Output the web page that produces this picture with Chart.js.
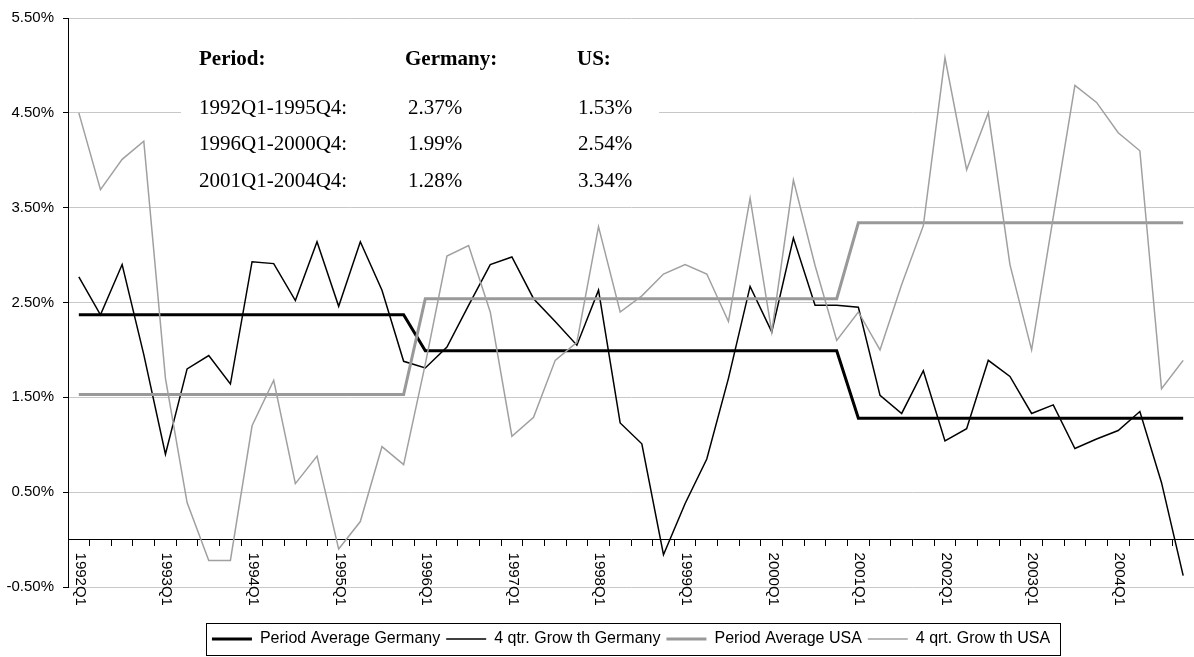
<!DOCTYPE html>
<html>
<head>
<meta charset="utf-8">
<script src="https://cdn.jsdelivr.net/npm/chart.js@4.4.1/dist/chart.umd.min.js"></script>
<style>
html,body{margin:0;padding:0;background:#fff;}
#wrap{width:1194px;height:657px;position:relative;}
</style>
</head>
<body>
<div id="wrap"><canvas id="c"></canvas></div>
<script>
const categories = [
  '1992Q1','1992Q2','1992Q3','1992Q4','1993Q1','1993Q2','1993Q3','1993Q4',
  '1994Q1','1994Q2','1994Q3','1994Q4','1995Q1','1995Q2','1995Q3','1995Q4',
  '1996Q1','1996Q2','1996Q3','1996Q4','1997Q1','1997Q2','1997Q3','1997Q4',
  '1998Q1','1998Q2','1998Q3','1998Q4','1999Q1','1999Q2','1999Q3','1999Q4',
  '2000Q1','2000Q2','2000Q3','2000Q4','2001Q1','2001Q2','2001Q3','2001Q4',
  '2002Q1','2002Q2','2002Q3','2002Q4','2003Q1','2003Q2','2003Q3','2003Q4',
  '2004Q1','2004Q2','2004Q3','2004Q4'
];
const tickLabels = ['1992Q1','1993Q1','1994Q1','1995Q1','1996Q1','1997Q1','1998Q1',
  '1999Q1','2000Q1','2001Q1','2002Q1','2003Q1','2004Q1'];
const yTicks = [-0.5, 0.5, 1.5, 2.5, 3.5, 4.5, 5.5];

const periodAverageGermany = [
  2.37,2.37,2.37,2.37,2.37,2.37,2.37,2.37,2.37,2.37,2.37,2.37,2.37,2.37,2.37,2.37,
  1.99,1.99,1.99,1.99,1.99,1.99,1.99,1.99,1.99,1.99,1.99,1.99,1.99,1.99,1.99,1.99,1.99,1.99,1.99,1.99,
  1.28,1.28,1.28,1.28,1.28,1.28,1.28,1.28,1.28,1.28,1.28,1.28,1.28,1.28,1.28,1.28
];
const growthGermany = [
  2.77,2.37,2.90,1.95,0.90,1.80,1.94,1.64,2.93,2.91,2.52,3.14,2.46,3.14,2.63,1.88,
  1.81,2.03,2.47,2.90,2.98,2.54,2.30,2.05,2.63,1.23,1.01,-0.16,0.38,0.85,1.70,2.67,
  2.19,3.18,2.47,2.47,2.45,1.52,1.33,1.78,1.04,1.17,1.89,1.72,1.33,1.42,0.96,1.06,
  1.15,1.35,0.60,-0.38
];
const periodAverageUSA = [
  1.53,1.53,1.53,1.53,1.53,1.53,1.53,1.53,1.53,1.53,1.53,1.53,1.53,1.53,1.53,1.53,
  2.54,2.54,2.54,2.54,2.54,2.54,2.54,2.54,2.54,2.54,2.54,2.54,2.54,2.54,2.54,2.54,2.54,2.54,2.54,2.54,
  3.34,3.34,3.34,3.34,3.34,3.34,3.34,3.34,3.34,3.34,3.34,3.34,3.34,3.34,3.34,3.34
];
const growthUSA = [
  4.50,3.69,4.01,4.20,1.70,0.39,-0.22,-0.22,1.20,1.68,0.59,0.88,-0.10,0.19,0.98,0.79,
  1.85,2.99,3.10,2.40,1.09,1.29,1.89,2.08,3.30,2.40,2.57,2.80,2.90,2.80,2.30,3.60,
  2.19,3.79,2.89,2.10,2.40,2.00,2.69,3.31,5.08,3.90,4.50,2.90,2.00,3.40,4.79,4.61,
  4.29,4.10,1.59,1.89
];

const tableHeader = ['Period:', 'Germany:', 'US:'];
const periodNames = ['1992Q1-1995Q4:', '1996Q1-2000Q4:', '2001Q1-2004Q4:'];
const germanyPeriodText = ['2.37%', '1.99%', '1.28%'];
const usPeriodText = ['1.53%', '2.54%', '3.34%'];

const SANS = '"Liberation Sans", Arial, sans-serif';
const SERIF = '"Liberation Serif", "Times New Roman", serif';

const tablePlugin = {
  id: 'tableBox',
  beforeDatasetsDraw(chart) {
    const ctx = chart.ctx;
    ctx.save();
    ctx.fillStyle = '#ffffff';
    ctx.fillRect(181, 28, 478, 172);
    ctx.fillStyle = '#000';
    ctx.textAlign = 'left';
    ctx.textBaseline = 'middle';
    ctx.font = 'bold 21px ' + SERIF;
    ctx.fillText(tableHeader[0], 199, 60);
    ctx.fillText(tableHeader[1], 405, 60);
    ctx.fillText(tableHeader[2], 577, 60);
    ctx.font = '21px ' + SERIF;
    const rowY = [108, 144, 181];
    for (let r = 0; r < periodNames.length; r++) {
      ctx.fillText(periodNames[r], 199, rowY[r]);
      ctx.fillText(germanyPeriodText[r], 408, rowY[r]);
      ctx.fillText(usPeriodText[r], 578, rowY[r]);
    }
    ctx.restore();
  }
};

const xLabelPlugin = {
  id: 'xLabels',
  afterDraw(chart) {
    const ctx = chart.ctx;
    const xs = chart.scales.x, ys = chart.scales.y;
    const y0 = ys.getPixelForValue(0);
    ctx.save();
    ctx.fillStyle = '#000';
    ctx.font = '15px ' + SANS;
    tickLabels.forEach(lbl => {
      const i = categories.indexOf(lbl);
      const x = xs.getPixelForValue(i);
      ctx.save();
      ctx.translate(x + 1, y0 + 13);
      ctx.rotate(Math.PI / 2);
      ctx.textAlign = 'left';
      ctx.textBaseline = 'middle';
      ctx.fillText(lbl, 0, 0);
      ctx.restore();
    });
    // legend frame
    const lg = chart.legend;
    if (lg && lg.legendHitBoxes && lg.legendHitBoxes.length) {
      const hb = lg.legendHitBoxes;
      const first = hb[0], last = hb[hb.length - 1];
      const cy = first.top + first.height / 2;
      const left = first.left - 5.5;
      const right = last.left + last.width + 10.5;
      ctx.strokeStyle = '#000';
      ctx.lineWidth = 1;
      ctx.strokeRect(Math.round(left) + 0.5, Math.round(cy - 16) + 0.5, Math.round(right - left), 32);
    }
    ctx.restore();
  }
};

new Chart(document.getElementById('c'), {
  type: 'line',
  data: {
    labels: categories,
    datasets: [
      { label: 'Period Average Germany', data: periodAverageGermany, borderColor: '#000000', borderWidth: 3, order: 3 },
      { label: '4 qtr. Grow th Germany', data: growthGermany, borderColor: '#000000', borderWidth: 1.5, order: 2 },
      { label: 'Period Average USA', data: periodAverageUSA, borderColor: '#999999', borderWidth: 3, order: 1 },
      { label: '4 qrt. Grow th USA', data: growthUSA, borderColor: '#a0a0a0', borderWidth: 1.5, order: 0 }
    ]
  },
  options: {
    responsive: true,
    maintainAspectRatio: false,
    animation: false,
    events: [],
    elements: { point: { radius: 0 }, line: { tension: 0, fill: false, borderJoinStyle: 'miter' } },
    layout: { padding: { top: 16, left: 0, right: 0, bottom: 0 } },
    plugins: {
      tooltip: { enabled: false },
      legend: {
        position: 'bottom',
        fullSize: false,
        align: 'center',
        title: { display: true, text: ' ', font: { size: 10, lineHeight: 1 }, padding: { top: 28, bottom: 0 } },
        labels: {
          usePointStyle: true,
          pointStyleWidth: 40,
          boxHeight: 16,
          padding: 6,
          color: '#000',
          font: { family: SANS, size: 16 },
          generateLabels: chart => chart.data.datasets.map((ds, i) => ({
            text: ds.label,
            fillStyle: ds.borderColor,
            strokeStyle: ds.borderColor,
            lineWidth: ds.borderWidth,
            pointStyle: 'line',
            hidden: false,
            datasetIndex: i,
            fontColor: '#000'
          }))
        }
      }
    },
    scales: {
      x: {
        type: 'category',
        position: { y: 0 },
        offset: true,
        grid: { offset: true, drawOnChartArea: false, drawTicks: true, tickLength: 6, color: '#000', tickColor: '#000' },
        border: { display: true, color: '#000', width: 1 },
        ticks: { display: false }
      },
      y: {
        min: -0.5,
        max: 5.5,
        afterBuildTicks: s => { s.ticks = yTicks.map(v => ({ value: v })); },
        afterFit: s => { s.width = 68; },
        grid: { color: '#c8c8c8', lineWidth: 1, tickColor: '#000', tickLength: 5, drawTicks: true },
        border: { display: true, color: '#000', width: 1 },
        ticks: {
          color: '#000',
          padding: 9,
          font: { family: SANS, size: 15 },
          callback: v => v.toFixed(2) + '%'
        }
      }
    }
  },
  plugins: [tablePlugin, xLabelPlugin]
});
</script>
</body>
</html>
